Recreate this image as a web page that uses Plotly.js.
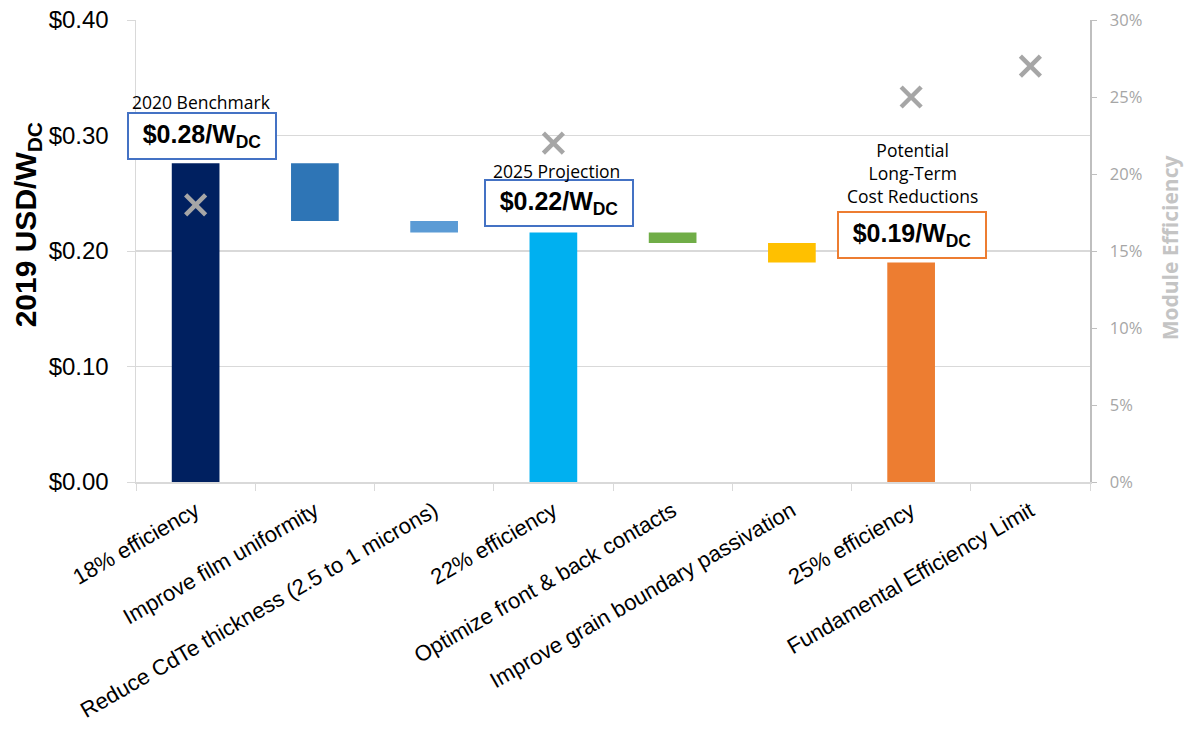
<!DOCTYPE html>
<html>
<head>
<meta charset="utf-8">
<script src="https://cdn.plot.ly/plotly-3.0.1.min.js"></script>
<style>
  html, body { margin: 0; padding: 0; background: #ffffff; }
  #chart { width: 1185px; height: 733px; }
</style>
</head>
<body>
<div id="chart"></div>
<script>
// CdTe module cost waterfall (2019 USD per watt DC) with module efficiency markers
const categories = [
  "18% efficiency",
  "Improve film uniformity",
  "Reduce CdTe thickness (2.5 to 1 microns)",
  "22% efficiency",
  "Optimize front & back contacts",
  "Improve grain boundary passivation",
  "25% efficiency",
  "Fundamental Efficiency Limit"
];
// bottom and top of each waterfall bar, USD/W_DC
const barBase = [0, 0.226, 0.216, 0, 0.207, 0.190, 0, null];
const barTop  = [0.276, 0.276, 0.226, 0.216, 0.216, 0.207, 0.190, null];
const barColors = ["#002060", "#2e75b6", "#5b9bd5", "#00b0f0", "#70ad47", "#ffc000", "#ed7d31", "#ffffff"];
// module efficiency (right axis)
const efficiency = [0.18, null, null, 0.22, null, null, 0.25, 0.27];

// milestone callouts
const milestoneIndex = [0, 3, 6];
const milestoneTitles = ["2020 Benchmark", "2025 Projection", "Potential<br>Long-Term<br>Cost Reductions"];
const milestoneBorders = ["#4472c4", "#4472c4", "#ed7d31"];
const milestoneBoxShift = [[6.4, 26.8], [5.8, 29.7], [1.2, 27.7]];
const milestoneTitleShift = [[5.4, 61.3], [2.8, 61.7], [1.2, 89.7]];

const heights = barTop.map((t, i) => (t === null ? null : t - barBase[i]));

const bars = {
  type: "bar",
  x: categories,
  y: heights,
  base: barBase,
  width: 0.4,
  marker: { color: barColors, line: { width: 0 } },
  hoverinfo: "skip",
  showlegend: false
};

const marks = {
  type: "scatter",
  mode: "markers",
  x: categories,
  y: efficiency,
  yaxis: "y2",
  marker: {
    symbol: "x-thin-open",
    size: 20,
    color: "#a6a6a6",
    line: { color: "#a6a6a6", width: 4.5 }
  },
  hoverinfo: "skip",
  showlegend: false
};

const annotations = [];
milestoneIndex.forEach((idx, k) => {
  const total = barTop[idx];
  annotations.push({
    xref: "x", yref: "y",
    x: idx, y: total,
    xanchor: "center", yanchor: "middle",
    xshift: milestoneBoxShift[k][0], yshift: milestoneBoxShift[k][1],
    text: "<b>$" + total.toFixed(2) + "/W<sub>DC</sub></b>",
    showarrow: false,
    font: { family: "Liberation Sans, Arial, sans-serif", size: 25, color: "#000000" },
    bgcolor: "#ffffff",
    bordercolor: milestoneBorders[k],
    borderwidth: 2,
    borderpad: 3,
    width: 140,
    height: 38
  });
  annotations.push({
    xref: "x", yref: "y",
    x: idx, y: total,
    xanchor: "center", yanchor: "middle",
    xshift: milestoneTitleShift[k][0], yshift: milestoneTitleShift[k][1],
    text: milestoneTitles[k],
    showarrow: false,
    align: "center",
    font: { family: "Open Sans, sans-serif", size: 17.5, color: "#000000" }
  });
});

// left axis title with subscript
annotations.push({
  xref: "paper", yref: "paper",
  x: -0.114, y: 0.556,
  xanchor: "center", yanchor: "middle",
  textangle: -90,
  text: "<b>2019 USD/W<sub>DC</sub></b>",
  showarrow: false,
  font: { family: "Liberation Sans, Arial, sans-serif", size: 30, color: "#000000" }
});
// right axis title
annotations.push({
  xref: "paper", yref: "paper",
  x: 1.084, y: 0.506,
  xanchor: "center", yanchor: "middle",
  textangle: -90,
  text: "<b>Module Efficiency</b>",
  showarrow: false,
  font: { family: "Open Sans, sans-serif", size: 21, color: "#c4c4c4" }
});

const layout = {
  width: 1185,
  height: 733,
  margin: { l: 136, r: 95, t: 20, b: 251, pad: 0 },
  paper_bgcolor: "#ffffff",
  plot_bgcolor: "#ffffff",
  showlegend: false,
  bargap: 0.6,
  xaxis: {
    type: "category",
    categoryorder: "array",
    categoryarray: categories,
    range: [-0.5, categories.length - 0.5],
    tickangle: -30,
    tickson: "boundaries",
    ticks: "outside",
    ticklen: 7,
    tickcolor: "#d9d9d9",
    ticklabelstandoff: 6,
    showline: true,
    linecolor: "#d9d9d9",
    linewidth: 1.5,
    showgrid: false,
    zeroline: false,
    tickfont: { family: "Liberation Sans, Arial, sans-serif", size: 22, color: "#000000" },
    fixedrange: true
  },
  yaxis: {
    range: [0, 0.4],
    dtick: 0.1,
    tickformat: "$.2f",
    ticks: "outside",
    ticklen: 8,
    tickcolor: "#d9d9d9",
    ticklabelstandoff: 13,
    showline: true,
    linecolor: "#d9d9d9",
    linewidth: 1.5,
    showgrid: true,
    gridcolor: "#d9d9d9",
    gridwidth: 1.2,
    zeroline: false,
    tickfont: { family: "Liberation Sans, Arial, sans-serif", size: 24, color: "#000000" },
    fixedrange: true
  },
  yaxis2: {
    overlaying: "y",
    side: "right",
    range: [0, 0.3],
    dtick: 0.05,
    tickformat: ".0%",
    ticks: "outside",
    ticklen: 5,
    tickcolor: "#bfbfbf",
    ticklabelstandoff: 10,
    showline: true,
    linecolor: "#bfbfbf",
    linewidth: 1.5,
    showgrid: false,
    zeroline: false,
    tickfont: { family: "Open Sans, sans-serif", size: 16.5, color: "#a6a6a6" },
    fixedrange: true
  },
  annotations: annotations
};

Plotly.newPlot("chart", [bars, marks], layout, { displayModeBar: false, staticPlot: true });
</script>
</body>
</html>
